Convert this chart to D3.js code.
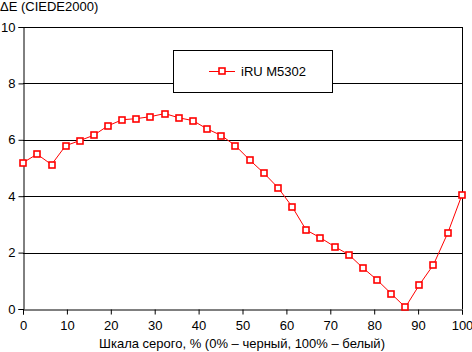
<!DOCTYPE html>
<html>
<head>
<meta charset="utf-8">
<script src="https://cdn.jsdelivr.net/npm/d3@7"></script>
<style>
  body { margin: 0; background: #fff; }
  text { font-family: "Liberation Sans", Arial, sans-serif; font-size: 13px; fill: #000; }
</style>
</head>
<body>
<script>
// grey level, % and measured dE
const grey = [0, 3.2, 6.5, 9.7, 12.9, 16.1, 19.4, 22.6, 25.8, 29.0, 32.3, 35.5, 38.7, 41.9, 45.2, 48.4,
  51.6, 54.8, 58.1, 61.3, 64.5, 67.7, 71.0, 74.2, 77.4, 80.6, 83.9, 87.1, 90.3, 93.5, 96.8, 100]
const deltaE = [5.19, 5.49, 5.12, 5.79, 5.97, 6.16, 6.50, 6.71, 6.75, 6.82, 6.93, 6.78, 6.68, 6.39, 6.15, 5.79,
  5.29, 4.83, 4.30, 3.63, 2.80, 2.53, 2.21, 1.93, 1.46, 1.04, 0.54, 0.06, 0.86, 1.57, 2.71, 4.05]
const xTicks = [0, 10, 20, 30, 40, 50, 60, 70, 80, 90, 100]
const yTicks = [0, 2, 4, 6, 8, 10]
const seriesName = "iRU M5302"

const width = 472, height = 352

const svg = d3.select("body").append("svg")
    .attr("width", width)
    .attr("height", height)

const x = d3.scaleLinear().domain([0, 100]).range([23, 462])
const y = d3.scaleLinear().domain([0, 10]).range([309, 27])

// grid
svg.append("g")
    .selectAll("line")
    .data(yTicks.filter(d => d > 0))
    .join("line")
    .attr("x1", x(0)).attr("x2", x(100))
    .attr("y1", d => Math.round(y(d)) + 0.5).attr("y2", d => Math.round(y(d)) + 0.5)
    .attr("stroke", "#000")

// right frame
svg.append("line")
    .attr("x1", Math.round(x(100)) + 0.5).attr("x2", Math.round(x(100)) + 0.5)
    .attr("y1", y(10)).attr("y2", y(0))
    .attr("stroke", "#000")

const xAxis = svg.append("g")
    .attr("transform", `translate(0,${Math.round(y(0)) + 0.5})`)
    .call(d3.axisBottom(x).tickValues(xTicks).tickSize(5).tickPadding(6))
xAxis.select(".domain").attr("stroke", "#000")

const yAxis = svg.append("g")
    .attr("transform", `translate(${Math.round(x(0)) + 0.5},0)`)
    .call(d3.axisLeft(y).tickValues(yTicks).tickSize(5).tickPadding(3))
yAxis.select(".domain").attr("stroke", "#000")

svg.selectAll(".tick text").attr("font-size", null).attr("font-family", null)
svg.selectAll(".tick line").attr("stroke", "#000")

// axis titles
svg.append("text").attr("x", 0).attr("y", 11).text("ΔE (CIEDE2000)")
svg.append("text").attr("x", 242).attr("y", 348).attr("text-anchor", "middle")
    .text("Шкала серого, % (0% – черный, 100% – белый)")

// series
const pts = grey.map((g, i) => [g, deltaE[i]])
svg.append("path")
    .datum(pts)
    .attr("fill", "none")
    .attr("stroke", "red")
    .attr("stroke-width", 1)
    .attr("d", d3.line().x(d => x(d[0])).y(d => y(d[1])))

svg.append("g")
    .selectAll("rect")
    .data(pts)
    .join("rect")
    .attr("x", d => Math.round(x(d[0])) - 3)
    .attr("y", d => Math.round(y(d[1])) - 3)
    .attr("width", 6).attr("height", 6)
    .attr("fill", "#fff")
    .attr("stroke", "red")
    .attr("stroke-width", 1.6)

// legend
const legend = svg.append("g")
legend.append("rect")
    .attr("x", 173.5).attr("y", 50.5).attr("width", 159).attr("height", 42)
    .attr("fill", "#fff").attr("stroke", "#000")
legend.append("line")
    .attr("x1", 209).attr("x2", 235).attr("y1", 71.5).attr("y2", 71.5)
    .attr("stroke", "red")
legend.append("rect")
    .attr("x", 219).attr("y", 68).attr("width", 6).attr("height", 6)
    .attr("fill", "#fff").attr("stroke", "red").attr("stroke-width", 1.6)
legend.append("text").attr("x", 241).attr("y", 76).text(seriesName)
</script>
</body>
</html>
